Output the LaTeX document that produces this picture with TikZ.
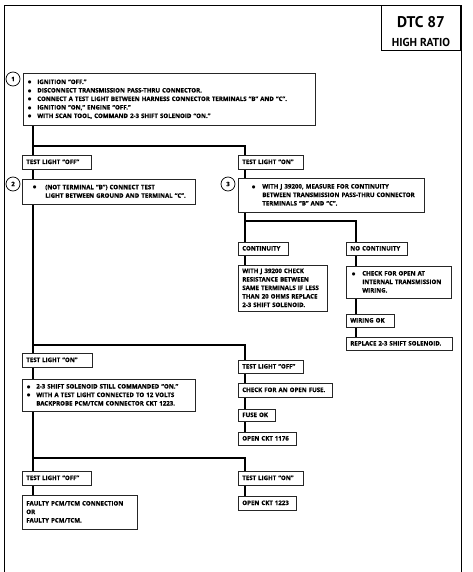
\documentclass[tikz,border=0pt]{standalone}
\usepackage{fontspec}
\setmainfont{Open Sans}[BoldFeatures={FakeBold=0.6}]
\newfontfamily\dtcfont{PT Sans}
\newfontfamily\symfont{DejaVu Sans}
\usetikzlibrary{backgrounds,shadows}
\newcommand{\bul}[1]{\makebox[#1][l]{\hspace*{0.5pt}\raisebox{0.3pt}{\symfont\fontsize{4.2}{5}\selectfont ●}}}
\newcommand{\tb}[1]{\begin{tabular}{@{}l@{}}#1\end{tabular}}
\begin{document}
\begin{tikzpicture}[x=1pt,y=-1pt,
  box/.style={draw=black!85, line width=0.6pt, fill=white, anchor=north west,
    inner xsep=4pt, inner ysep=0pt, align=left,
    font=\fontsize{6.1}{8.5}\selectfont\bfseries,
    drop shadow={shadow xshift=0.8pt, shadow yshift=-0.8pt, opacity=0.5, fill=black}},
  num/.style={circle, draw, line width=0.7pt, fill=white, minimum size=14pt, inner sep=0pt,
    font=\fontsize{6}{7}\selectfont\bfseries},
  trunk/.style={line width=2.2pt, line join=miter},
  frame/.style={line width=0.8pt}]
\useasboundingbox (0,0) rectangle (472,572);

% frame
\draw[frame] (4,572) -- (4,5) -- (461,5) -- (461,572);
\node[draw, frame, minimum width=79pt, minimum height=45pt, anchor=north east, inner sep=0pt] (dtc) at (461,5) {};
\node[anchor=base, font=\dtcfont\fontsize{15.5}{17}\selectfont\bfseries] (dtcA) at (421,28) {DTC 87};
\node[anchor=base, font=\dtcfont\fontsize{11.5}{13}\selectfont\bfseries] (dtcB) at (421,47) {HIGH RATIO};

% coordinates
\coordinate (xL) at (33,0);
\coordinate (xR) at (245,0);
\coordinate (xN) at (356,0);
\coordinate (j1) at (33,146);
\coordinate (j2) at (245,221);
\coordinate (j3) at (33,345);
\coordinate (j4) at (33,458);

% boxes
\node[box, text width=284pt, minimum height=52pt] (b1) at (23,73) {\tb{%
  \bul{10pt}IGNITION “OFF.”\\
  \bul{10pt}DISCONNECT TRANSMISSION PASS-THRU CONNECTOR.\\
  \bul{10pt}CONNECT A TEST LIGHT BETWEEN HARNESS CONNECTOR TERMINALS “B” AND “C”.\\
  \bul{10pt}IGNITION “ON,” ENGINE “OFF.”\\
  \bul{10pt}WITH SCAN TOOL, COMMAND 2-3 SHIFT SOLENOID “ON.”}};
\node[num] (n1) at (13,79) {1};

\node[box, text width=61pt, minimum height=14pt] (tOffL) at (22,155) {\tb{TEST LIGHT “OFF”}};
\node[box, text width=165pt, minimum height=25pt] (b2) at (22,179) {\tb{%
  \hspace*{6pt}\bul{13pt}(NOT TERMINAL “B”) CONNECT TEST\\
  \hspace*{19pt}LIGHT BETWEEN GROUND AND TERMINAL “C”.}};
\node[num] (n2) at (13,184) {2};

\node[box, text width=57pt, minimum height=14pt] (tOnR) at (238,155) {\tb{TEST LIGHT “ON”}};
\node[box, text width=178pt, minimum height=34pt] (b3) at (238,178) {\tb{%
  \hspace*{9pt}\bul{11pt}WITH J 39200, MEASURE FOR CONTINUITY\\
  \hspace*{20pt}BETWEEN TRANSMISSION PASS-THRU CONNECTOR\\
  \hspace*{20pt}TERMINALS “B” AND “C”.}};
\node[num] (n3) at (228,184) {3};

\node[box, text width=42pt, minimum height=13pt] (cont) at (238,242) {\tb{CONTINUITY}};
\node[box, text width=53pt, minimum height=13pt] (nocont) at (346,242) {\tb{NO CONTINUITY}};
\node[box, text width=81pt, minimum height=46pt] (b4) at (238,265) {\tb{%
  WITH J 39200 CHECK\\
  RESISTANCE BETWEEN\\
  SAME TERMINALS IF LESS\\
  THAN 20 OHMS REPLACE\\
  2-3 SHIFT SOLENOID.}};
\node[box, text width=97pt, minimum height=32pt] (b5) at (346,266) {\tb{%
  \hspace*{1pt}\bul{11pt}CHECK FOR OPEN AT\\
  \hspace*{12pt}INTERNAL TRANSMISSION\\
  \hspace*{12pt}WIRING.}};
\node[box, text width=40pt, minimum height=13pt] (wok) at (346,314) {\tb{WIRING OK}};
\node[box, text width=98pt, minimum height=13pt] (rep) at (346,337) {\tb{REPLACE 2-3 SHIFT SOLENOID.}};

\node[box, text width=62pt, minimum height=14pt] (tOnL) at (22,353) {\tb{TEST LIGHT “ON”}};
\node[box, text width=165pt, minimum height=32pt] (b6) at (22,379) {\tb{%
  \bul{10pt}2-3 SHIFT SOLENOID STILL COMMANDED “ON.”\\
  \bul{10pt}WITH A TEST LIGHT CONNECTED TO 12 VOLTS\\
  \hspace*{10pt}BACKPROBE PCM/TCM CONNECTOR CKT 1223.}};

\node[box, text width=57pt, minimum height=13pt] (tOffR) at (238,360) {\tb{TEST LIGHT “OFF”}};
\node[box, text width=86pt, minimum height=14pt] (fuse) at (238,383) {\tb{CHECK FOR AN OPEN FUSE.}};
\node[box, text width=29pt, minimum height=12pt] (fok) at (238,409) {\tb{FUSE OK}};
\node[box, text width=50pt, minimum height=13pt] (c1176) at (238,432) {\tb{OPEN CKT 1176}};

\node[box, text width=61pt, minimum height=14pt] (tOffL2) at (22,471) {\tb{TEST LIGHT “OFF”}};
\node[box, text width=107pt, minimum height=34pt] (faulty) at (22,495) {\tb{%
  FAULTY PCM/TCM CONNECTION\\
  OR\\
  FAULTY PCM/TCM.}};
\node[box, text width=57pt, minimum height=14pt] (tOnR2) at (238,471) {\tb{TEST LIGHT “ON”}};
\node[box, text width=50pt, minimum height=14pt] (c1223) at (238,496) {\tb{OPEN CKT 1223}};

% connectors
\begin{pgfonlayer}{background}
\draw[trunk] (b1.south -| xL) -- (faulty.north -| xL);
\draw[trunk] (j1) -- (j1 -| xR) -- (b4.north -| xR);
\draw[trunk] (j2) -- (j2 -| xN) -- (rep.north -| xN);
\draw[trunk] (j3) -- (j3 -| xR) -- (c1176.north -| xR);
\draw[trunk] (j4) -- (j4 -| xR) -- (c1223.north -| xR);
\end{pgfonlayer}
\end{tikzpicture}
\end{document}
